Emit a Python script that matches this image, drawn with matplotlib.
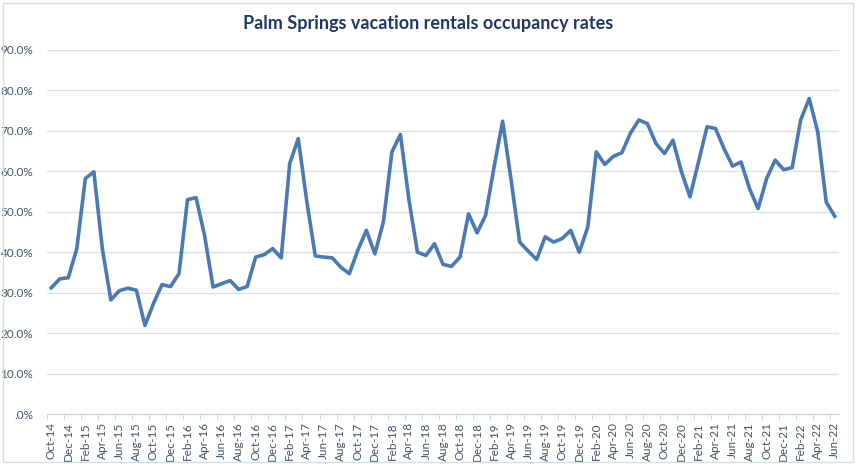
import matplotlib.pyplot as plt
from matplotlib.patches import Rectangle
from matplotlib.ticker import FixedLocator

plt.rcParams['font.family'] = ['Lato', 'DejaVu Sans']

# monthly occupancy, Oct-14 .. Jun-22 (percent)
months = ['Oct', 'Nov', 'Dec', 'Jan', 'Feb', 'Mar', 'Apr', 'May', 'Jun', 'Jul', 'Aug', 'Sep']
occupancy = [
    31.2, 33.4, 33.7,                                                    # 2014
    40.9, 58.2, 59.9, 40.8, 28.2, 30.5, 31.1, 30.6, 21.9, 27.3, 32.0, 31.5,  # 2015
    34.7, 53.0, 53.5, 44.2, 31.4, 32.2, 33.0, 30.8, 31.5, 38.8, 39.4, 40.9,  # 2016
    38.6, 61.9, 68.1, 52.7, 39.1, 38.8, 38.6, 36.3, 34.7, 40.5, 45.4, 39.6,  # 2017
    47.5, 64.8, 69.1, 53.0, 40.0, 39.2, 42.1, 37.0, 36.5, 38.8, 49.5, 44.8,  # 2018
    49.1, 61.1, 72.4, 57.8, 42.5, 40.3, 38.2, 43.8, 42.5, 43.4, 45.4, 40.0,  # 2019
    46.2, 64.8, 61.7, 63.7, 64.6, 69.4, 72.7, 71.8, 66.9, 64.4, 67.7, 59.9,  # 2020
    53.7, 62.3, 71.0, 70.6, 65.6, 61.3, 62.3, 55.7, 50.8, 58.2, 62.8, 60.4,  # 2021
    60.9, 72.7, 78.0, 69.8, 52.4, 48.9,                                  # 2022
]

labels = []
yr = 14
for i in range(len(occupancy)):
    m = months[i % 12]
    if m == 'Jan' and i > 0:
        yr += 1
    labels.append(f'{m}-{yr}')

y_ticks = [0, 10, 20, 30, 40, 50, 60, 70, 80, 90]
y_labels = ['.0%'] + [f'{v:.1f}%' for v in y_ticks[1:]]

fig = plt.figure(figsize=(8.62, 4.69), dpi=100)
ax = fig.add_axes([47 / 862, 1 - 414 / 469, (839 - 47) / 862, (414 - 50) / 469])

x = list(range(len(occupancy)))
ax.plot(x, occupancy, color='#4a7ab5', lw=2.6, zorder=3)

ax.set_xlim(-0.5, len(occupancy) - 0.5)
ax.set_ylim(0, 90)
ax.set_yticks(y_ticks)
ax.set_yticklabels(y_labels)
ax.set_xticks(x[::2])
ax.set_xticklabels(labels[::2], rotation=90)
ax.xaxis.set_minor_locator(FixedLocator([k - 0.5 for k in range(0, len(occupancy) + 1, 2)]))

tick_col = '#44546a'
ax.tick_params(axis='x', which='major', length=0, pad=6, labelsize=8.5, labelcolor=tick_col)
ax.tick_params(axis='x', which='minor', length=4, color='#c9d3df')
ax.tick_params(axis='y', length=0, pad=10, labelsize=8.5, labelcolor=tick_col)

ax.grid(axis='y', color='#dcdfe4', lw=0.9)
ax.set_axisbelow(True)
for s in ['top', 'right', 'left']:
    ax.spines[s].set_visible(False)
ax.spines['bottom'].set_color('#c9d3df')

fig.text(0.497, 1 - 24 / 469, 'Palm Springs vacation rentals occupancy rates',
         ha='center', va='center', fontsize=13, fontweight='bold', color='#203864')

fig.patches.append(Rectangle((3 / 862, 1 - 462 / 469), 850 / 862, 459 / 469,
                             transform=fig.transFigure, fill=False,
                             edgecolor='#d6dde6', lw=1))

plt.savefig('out.png', dpi=100)
